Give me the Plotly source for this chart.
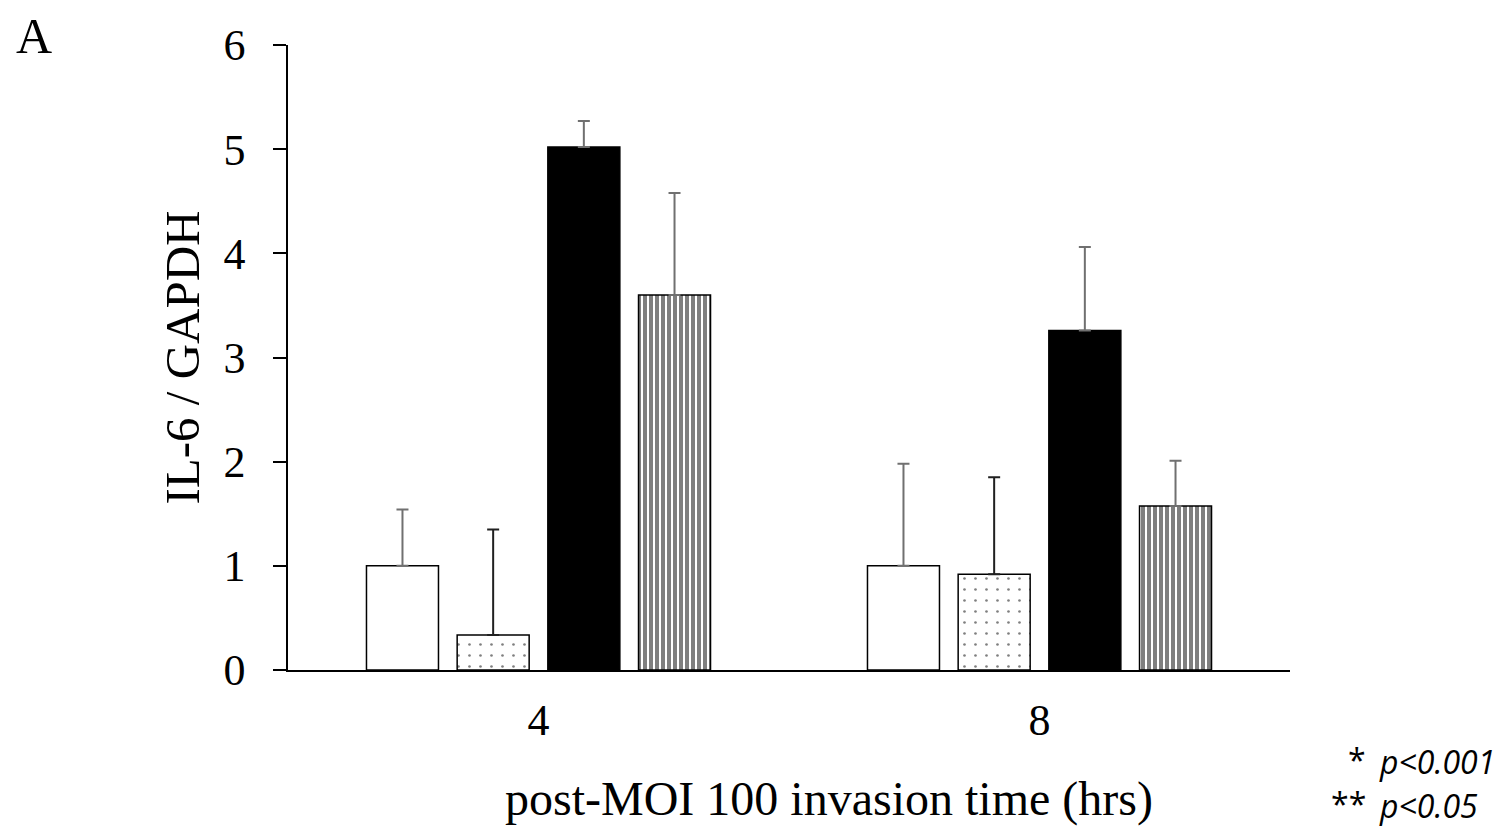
import plotly.graph_objects as go

categories = ["4", "8"]
control = [1.0, 1.0]
control_err = [0.54, 0.98]
dotted = [0.335, 0.92]
dotted_err = [1.015, 0.93]
black = [5.02, 3.26]
black_err = [0.25, 0.80]
striped = [3.60, 1.575]
striped_err = [0.98, 0.435]

series = [
    (control, control_err, dict(color="white"), "#707070"),
    (dotted, dotted_err, dict(color="white", pattern=dict(shape=".", fgcolor="black", bgcolor="white", size=11, solidity=0.045)), "#202020"),
    (black, black_err, dict(color="black"), "#707070"),
    (striped, striped_err, dict(color="white", pattern=dict(shape="|", fgcolor="black", bgcolor="white", size=6, solidity=0.667)), "#707070"),
]

W, H = 1505, 827
L, R, T, B = 288, 215, 45, 157
plot_w = W - L - R
plot_h = H - T - B


def px(x):
    return (x - L) / plot_w


def py(y):
    return (H - B - y) / plot_h


fig = go.Figure()
for vals, errs, mk, ecol in series:
    fig.add_trace(go.Bar(
        x=categories, y=vals,
        marker=dict(**mk, line=dict(color="black", width=1.5)),
        error_y=dict(type="data", array=errs, arrayminus=[0] * len(errs), symmetric=False,
                     color=ecol, thickness=2, width=6),
        showlegend=False,
    ))

serif = "Liberation Serif, Times New Roman, serif"
sans = "Open Sans, sans-serif"
fig.update_layout(
    width=W, height=H,
    margin=dict(l=L, r=R, t=T, b=B),
    paper_bgcolor="white", plot_bgcolor="white",
    barmode="group", bargap=0.276, bargroupgap=0.206,
    font=dict(family=serif, size=44, color="black"),
    xaxis=dict(
        showline=True, linecolor="black", linewidth=1.5, ticks="", showgrid=False,
        tickfont=dict(size=44), ticklabelstandoff=10,
    ),
    yaxis=dict(
        range=[0, 6], tickvals=[0, 1, 2, 3, 4, 5, 6], showline=True, linecolor="black", linewidth=1.5,
        ticks="outside", ticklen=13, tickcolor="black", tickwidth=1.5, showgrid=False, zeroline=False,
        tickfont=dict(size=44), ticklabelstandoff=19,
        title=dict(text="IL-6 / GAPDH", font=dict(size=49), standoff=8),
    ),
    annotations=[
        dict(text="A", x=px(34), y=py(36), xref="paper", yref="paper", xanchor="center", yanchor="middle",
             showarrow=False, font=dict(family=serif, size=50)),
        dict(text="post-MOI 100 invasion time (hrs)", x=px(829), y=py(799), xref="paper", yref="paper",
             xanchor="center", yanchor="middle", showarrow=False, font=dict(family=serif, size=48)),
        dict(text="*", x=px(1368), y=py(759), xref="paper", yref="paper", xanchor="right", yanchor="middle",
             showarrow=False, font=dict(family=sans, size=32)),
        dict(text="<i>p<0.001</i>", x=px(1377), y=py(761), xref="paper", yref="paper", xanchor="left",
             yanchor="middle", showarrow=False, font=dict(family=sans, size=32)),
        dict(text="**", x=px(1368), y=py(803), xref="paper", yref="paper", xanchor="right", yanchor="middle",
             showarrow=False, font=dict(family=sans, size=32)),
        dict(text="<i>p<0.05</i>", x=px(1377), y=py(805), xref="paper", yref="paper", xanchor="left",
             yanchor="middle", showarrow=False, font=dict(family=sans, size=32)),
    ],
)
fig.write_html("out.html")
